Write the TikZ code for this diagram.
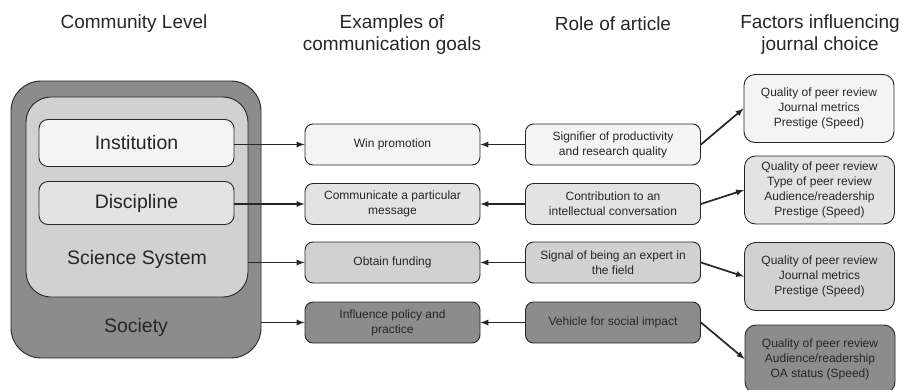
\documentclass[tikz,border=0pt]{standalone}
\usepackage{fontspec}
\setmainfont{Liberation Sans}
\definecolor{tone1}{HTML}{F4F4F4}
\definecolor{tone2}{HTML}{E3E3E3}
\definecolor{tone3}{HTML}{D1D1D1}
\definecolor{tone4}{HTML}{8C8C8C}
\definecolor{ink}{HTML}{262626}

\begin{document}
\begin{tikzpicture}[x=1pt,y=-1pt,every node/.style = {align = center, inner sep = 0pt, text = ink},small box/.style = {shape = rectangle, rounded corners = 8pt, draw = ink, line width = 0.9pt, minimum width = 175pt, minimum height = 41pt, font = \fontsize{12}{15}\selectfont},factor box/.style = {small box, rounded corners = 11pt, minimum width = 150pt, minimum height = 68pt},level box/.style = {shape = rectangle, rounded corners = 9pt, draw = ink, line width = 0.9pt, minimum width = 195pt, font = \fontsize{19.5}{22}\selectfont},head/.style = {font = \fontsize{19}{22}\selectfont},grey edge/.style = {-latex, line width = 1.7pt, ink}]
\useasboundingbox (0,0) rectangle (903,389);
\node(h;0) at (134,24) [head] {Community Level};
  \node(h;1) at (392,35) [head] {Examples of \\ communication goals};
  \node(h;2) at (613,24) [head] {Role of article};
  \node(h;3) at (820,35) [head] {Factors influencing \\ journal choice};
\node(0;4) at (136,219.5) [level box, rounded corners = 30pt, fill = tone4, minimum width = 250pt, minimum height = 277pt] {};
  \node(0;3) at (137,197) [level box, rounded corners = 25pt, fill = tone3, minimum width = 222pt, minimum height = 200pt] {};
  \node(0;1) at (136.5,143) [level box, fill = tone1, minimum height = 47pt] {Institution};
  \node(0;2) at (136.5,203) [level box, fill = tone2, minimum height = 43pt] {Discipline};
  \node(t;3) at (137,259) [font = \fontsize{19.5}{22}\selectfont] {Science System};
  \node(t;4) at (136,327) [font = \fontsize{19.5}{22}\selectfont] {Society};
\node(1;1) at (392.5,144.5) [small box, fill = tone1] {Win promotion};
  \node(1;2) at (392.5,204) [small box, fill = tone2] {Communicate a particular \\ message};
  \node(1;3) at (392.5,262.5) [small box, fill = tone3] {Obtain funding};
  \node(1;4) at (392.5,322.5) [small box, fill = tone4] {Influence policy and \\ practice};
\node(2;1) at (613,144.5) [small box, fill = tone1] {Signifier of productivity \\ and research quality};
  \node(2;2) at (613,204) [small box, fill = tone2] {Contribution to an \\ intellectual conversation};
  \node(2;3) at (613,262.5) [small box, fill = tone3] {Signal of being an expert in \\ the field};
  \node(2;4) at (613,322.5) [small box, fill = tone4] {Vehicle for social impact};
\node(3;1) at (819,108.5) [factor box, fill = tone1] {Quality of peer review \\ Journal metrics \\ Prestige (Speed)};
  \node(3;2) at (819.5,190) [factor box, fill = tone2] {Quality of peer review \\ Type of peer review \\ Audience/readership \\ Prestige (Speed)};
  \node(3;3) at (819.5,276.5) [factor box, fill = tone3] {Quality of peer review \\ Journal metrics \\ Prestige (Speed)};
  \node(3;4) at (820,359) [factor box, fill = tone4] {Quality of peer review \\ Audience/readership \\ OA status (Speed)};
\foreach \j in {1,2,3,4}
  { \draw[grey edge] (0;\j.east |- 1;\j.west) -- (1;\j.west); }
\foreach \j in {1,2,3,4}
  { \draw[grey edge] (2;\j.west) -- (1;\j.east); }
\foreach \j in {1,2,3,4}
  { \draw[grey edge] (2;\j.east) -- (3;\j.west); }
\end{tikzpicture}
\end{document}
